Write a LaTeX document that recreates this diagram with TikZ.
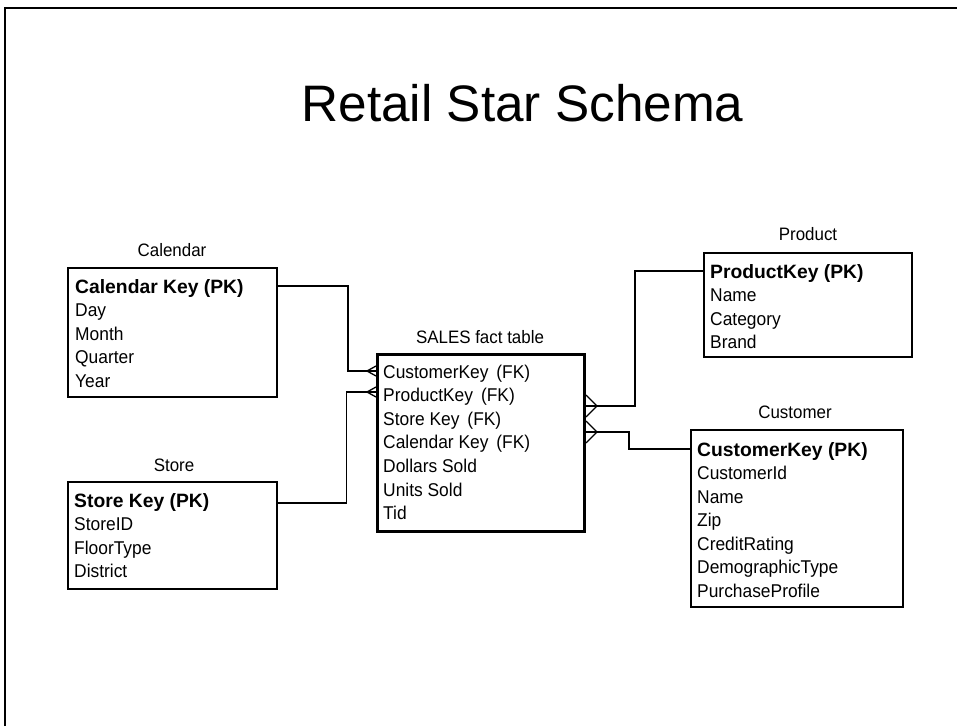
\documentclass[tikz,border=0pt]{standalone}
\usepackage{fontspec}
\setmainfont{Liberation Sans}
\newfontfamily\rowfont[FakeStretch=0.94]{Liberation Sans}
\begin{document}
\begin{tikzpicture}[x=1pt,y=-1pt,
  row/.style={anchor=base west,inner sep=0pt,font=\rowfont\fontsize{18.5}{20}\selectfont},
  keyrow/.style={anchor=base west,inner sep=0pt,font=\fontsize{19.3}{20}\selectfont\bfseries},
  lbl/.style={anchor=base,inner sep=0pt,font=\rowfont\fontsize{18}{20}\selectfont},
  tbl/.style={draw,line width=1.5pt,inner sep=0pt,anchor=north west},
  facttbl/.style={tbl,line width=3pt},
  conn/.style={line width=1.3pt}]
\useasboundingbox (0,0) rectangle (957,726);
% page frame
\draw[line width=2pt] (4.5,726) -- (4.5,7.5) -- (957,7.5);
% title
\node[anchor=base,inner sep=0pt,font=\fontsize{51.3}{60}\selectfont] (title) at (522.5,121) {Retail Star Schema};

% Calendar
\node[tbl,minimum width=209pt,minimum height=129pt] (cal) at (67,267) {};
\node[lbl] (calL) at (172,256) {Calendar};
\node[keyrow] (cal0) at (75,293) {Calendar Key (PK)};
\foreach \t [count=\i] in {Day,Month,Quarter,Year}
  \node[row] (cal\i) at (75,293+23.5*\i) {\t};

% Store
\node[tbl,minimum width=209pt,minimum height=107pt] (store) at (67,481) {};
\node[lbl] (storeL) at (174,471) {Store};
\node[keyrow] (st0) at (74,507) {Store Key (PK)};
\foreach \t [count=\i] in {StoreID,FloorType,District}
  \node[row] (st\i) at (74,507+23.5*\i) {\t};

% SALES
\node[facttbl,minimum width=207pt,minimum height=177pt] (sales) at (376,353) {};
\node[lbl] (salesL) at (480,343) {SALES fact table};
\foreach \t [count=\i from 0] in {CustomerKey\ \,(FK),ProductKey\ \,(FK),Store Key\ \,(FK),Calendar Key\ \,(FK),Dollars Sold,Units Sold,Tid}
  \node[row] (sa\i) at (383,378+23.6*\i) {\t};

% Product
\node[tbl,minimum width=208pt,minimum height=104pt] (prod) at (703,252) {};
\node[lbl] (prodL) at (808,240) {Product};
\node[keyrow] (pr0) at (710,278) {ProductKey (PK)};
\foreach \t [count=\i] in {Name,Category,Brand}
  \node[row] (pr\i) at (710,278+23.5*\i) {\t};

% Customer
\node[tbl,minimum width=212pt,minimum height=177pt] (cust) at (690,429) {};
\node[lbl] (custL) at (795,418) {Customer};
\node[keyrow] (cu0) at (697,456) {CustomerKey (PK)};
\foreach \t [count=\i] in {CustomerId,Name,Zip,CreditRating,DemographicType,PurchaseProfile}
  \node[row] (cu\i) at (697,456+23.5*\i) {\t};

% connectors with crow's feet
\draw[conn] (cal.east |- 0,286) -- (348,286) -- (348,371) -- (sales.west |- 0,371);
\draw[conn] (sales.west |- 0,366) -- (367,371) -- (sales.west |- 0,376);
\draw[conn] (store.east |- 0,503) -- (346.5,503) -- (346.5,392) -- (sales.west |- 0,392);
\draw[conn] (sales.west |- 0,387) -- (367,392) -- (sales.west |- 0,397);
\draw[conn] (sales.east |- 0,406) -- (635,406) -- (635,271) -- (prod.west |- 0,271);
\draw[conn] (sales.east |- 0,395) -- (597,406) -- (sales.east |- 0,417);
\draw[conn] (sales.east |- 0,432) -- (629,432) -- (629,449) -- (cust.west |- 0,449);
\draw[conn] (sales.east |- 0,421) -- (597,432) -- (sales.east |- 0,443);
\end{tikzpicture}
\end{document}
